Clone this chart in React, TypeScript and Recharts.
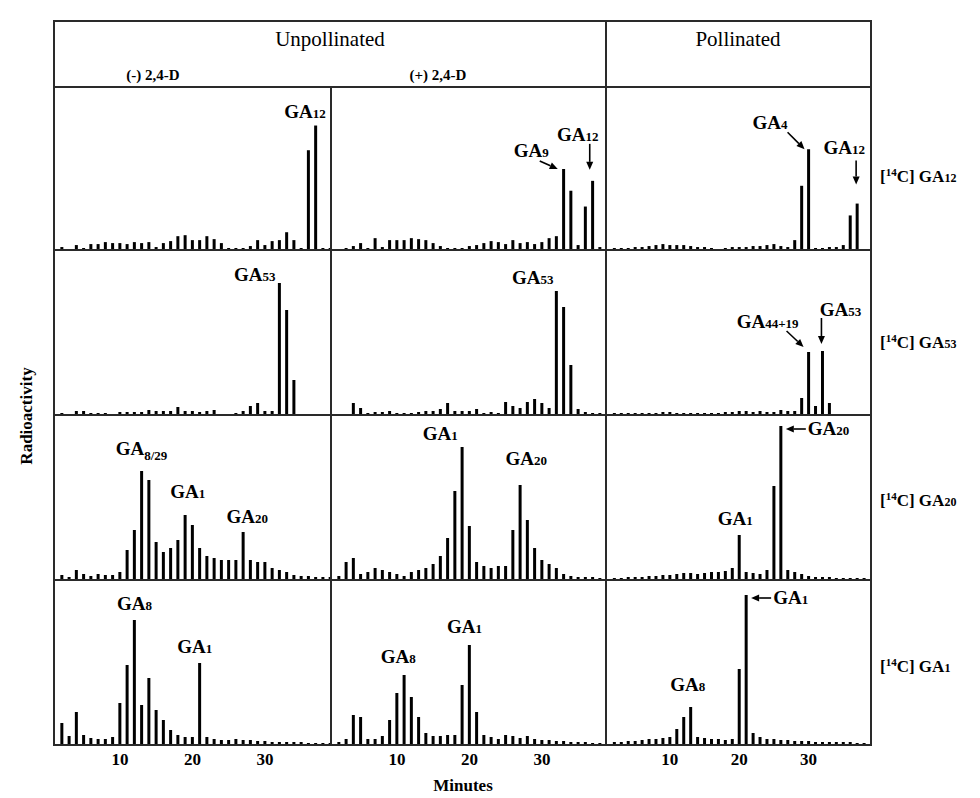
import React from 'react';
import { BarChart, Bar, XAxis, YAxis, ReferenceDot } from 'recharts';

// HPLC fraction (minute) of every bar
const FRACTIONS = [2, 3, 4, 5, 6, 7, 8, 9, 10, 11, 12, 13, 14, 15, 16, 17, 18, 19, 20, 21, 22, 23, 24, 25, 26, 27, 28, 29, 30, 31, 32, 33, 34, 35, 36, 37, 38, 39];
const MINUTE_TICKS = [10, 20, 30];

// Row 1: [14C] GA12 fed
const ga12MinusD = [3, 1, 5, 2, 6, 6, 8, 7, 7, 6, 8, 7, 8, 3, 7, 9, 14, 15, 10, 10, 14, 11, 7, 2, 2, 2, 4, 10, 5, 9, 10, 18, 10, 2, 101, 126, 2, 2];
const ga12PlusD = [0, 2, 4, 7, 2, 12, 3, 10, 10, 10, 12, 11, 10, 7, 4, 2, 2, 2, 4, 5, 7, 9, 8, 6, 10, 7, 8, 6, 8, 12, 14, 82, 60, 5, 44, 70, 3, 2];
const ga12Pollinated = [2, 2, 2, 3, 3, 4, 5, 6, 5, 5, 5, 4, 3, 3, 2, 1, 2, 3, 3, 3, 4, 4, 5, 6, 4, 3, 10, 65, 102, 2, 2, 3, 3, 5, 35, 47, 1, 0];
// Row 2: [14C] GA53 fed
const ga53MinusD = [2, 1, 4, 4, 2, 2, 2, 1, 3, 3, 3, 3, 5, 4, 4, 4, 8, 4, 4, 3, 4, 5, 1, 1, 2, 4, 9, 12, 4, 4, 132, 105, 35, 1, 1, 1, 1, 1];
const ga53PlusD = [1, 1, 12, 7, 2, 3, 3, 4, 2, 2, 2, 3, 4, 4, 6, 12, 4, 4, 4, 6, 2, 3, 2, 13, 9, 7, 13, 16, 12, 7, 124, 108, 50, 6, 3, 2, 2, 1];
const ga53Pollinated = [2, 2, 2, 2, 2, 2, 2, 3, 3, 2, 2, 2, 2, 2, 2, 2, 3, 3, 4, 4, 3, 4, 3, 3, 5, 4, 4, 17, 63, 9, 64, 12, 1, 1, 1, 1, 1, 0];
// Row 3: [14C] GA20 fed
const ga20MinusD = [5, 3, 10, 6, 4, 6, 5, 5, 8, 30, 50, 109, 100, 38, 28, 32, 40, 65, 55, 32, 24, 22, 20, 20, 20, 48, 20, 18, 18, 12, 10, 8, 5, 4, 4, 3, 3, 3];
const ga20PlusD = [4, 18, 22, 6, 8, 12, 10, 8, 6, 4, 8, 10, 12, 16, 24, 42, 89, 133, 54, 18, 14, 12, 14, 14, 50, 95, 60, 32, 20, 16, 12, 6, 4, 3, 3, 3, 2, 2];
const ga20Pollinated = [2, 2, 3, 3, 3, 4, 4, 5, 5, 6, 7, 7, 6, 7, 8, 8, 9, 12, 45, 8, 7, 6, 10, 94, 154, 10, 8, 6, 4, 3, 3, 3, 2, 2, 2, 2, 2, 0];
// Row 4: [14C] GA1 fed
const ga1MinusD = [22, 9, 33, 10, 7, 6, 6, 8, 42, 80, 125, 40, 67, 35, 25, 15, 10, 8, 8, 82, 8, 6, 5, 5, 6, 5, 5, 4, 4, 3, 3, 3, 3, 3, 2, 2, 2, 2];
const ga1PlusD = [3, 6, 30, 28, 6, 6, 9, 25, 52, 70, 48, 28, 12, 9, 9, 10, 10, 60, 100, 33, 10, 8, 6, 10, 9, 7, 9, 6, 5, 5, 4, 4, 3, 3, 3, 2, 2, 2];
const ga1Pollinated = [3, 3, 4, 4, 5, 6, 6, 7, 8, 16, 28, 38, 8, 7, 6, 6, 5, 6, 76, 150, 12, 8, 6, 6, 5, 5, 4, 4, 4, 3, 3, 3, 3, 3, 3, 2, 2, 0];

const groupHeaders = ['Unpollinated', 'Pollinated'];
const treatmentHeaders = ['(-) 2,4-D', '(+) 2,4-D'];
const substrateSubs = ['12', '53', '20', '1'];

const FONT = '"Liberation Serif", "Times New Roman", serif';
const LINE = '#2a2a2a';

const COLS = [
  { left: 46, width: 277, domain: [0.9, 39.1] },
  { left: 323, width: 275, domain: [0.9, 38.83] },
  { left: 598, width: 265, domain: [0.8, 39.0] },
];
const ROWS = [
  { top: 79, height: 163 },
  { top: 242, height: 165 },
  { top: 407, height: 165 },
  { top: 572, height: 165 },
];
const AXIS_H = 32;

type Ann = {
  m: number;
  sub: string;
  low?: boolean;
  anchor: 'start' | 'middle' | 'end';
  dx: number;
  dy: number;
  arrow?: [number, number, number, number];
  leftArrow?: boolean;
};

const annotations: Ann[][][] = [
  [
    [{ m: 37, sub: '12', anchor: 'end', dx: 10, dy: -8 }],
    [
      { m: 33, sub: '9', anchor: 'end', dx: -15, dy: -12, arrow: [-24, -8, -6, 0] },
      { m: 37, sub: '12', anchor: 'middle', dx: -15, dy: -40, arrow: [-3, -37, -3, -11] },
    ],
    [
      { m: 30, sub: '4', anchor: 'end', dx: -21, dy: -20, arrow: [-21, -17, -4, 0] },
      { m: 37, sub: '12', anchor: 'middle', dx: -13, dy: -50, arrow: [-1, -43, -1, -19] },
    ],
  ],
  [
    [{ m: 32, sub: '53', anchor: 'end', dx: -4, dy: -2 }],
    [{ m: 32, sub: '53', anchor: 'end', dx: -3, dy: -7 }],
    [
      { m: 30, sub: '44+19', anchor: 'end', dx: -10, dy: -24, arrow: [-22, -21, -5, -5] },
      { m: 32, sub: '53', anchor: 'middle', dx: 18, dy: -35, arrow: [-1, -33, -1, -7] },
    ],
  ],
  [
    [
      { m: 13, sub: '8/29', low: true, anchor: 'start', dx: -26, dy: -16 },
      { m: 19, sub: '1', anchor: 'start', dx: -15, dy: -17 },
      { m: 27, sub: '20', anchor: 'middle', dx: 4, dy: -9 },
    ],
    [
      { m: 19, sub: '1', anchor: 'middle', dx: -22, dy: -7 },
      { m: 27, sub: '20', anchor: 'middle', dx: 6, dy: -20 },
    ],
    [
      { m: 26, sub: '20', anchor: 'start', dx: 27, dy: 9, leftArrow: true },
      { m: 20, sub: '1', anchor: 'middle', dx: -4, dy: -10 },
    ],
  ],
  [
    [
      { m: 12, sub: '8', anchor: 'middle', dx: 0, dy: -10 },
      { m: 21, sub: '1', anchor: 'middle', dx: -5, dy: -10 },
    ],
    [
      { m: 11, sub: '8', anchor: 'middle', dx: -6, dy: -12 },
      { m: 20, sub: '1', anchor: 'middle', dx: -5, dy: -12 },
    ],
    [
      { m: 21, sub: '1', anchor: 'start', dx: 27, dy: 9, leftArrow: true },
      { m: 13, sub: '8', anchor: 'middle', dx: -3, dy: -16 },
    ],
  ],
];

const panelValues = [
  [ga12MinusD, ga12PlusD, ga12Pollinated],
  [ga53MinusD, ga53PlusD, ga53Pollinated],
  [ga20MinusD, ga20PlusD, ga20Pollinated],
  [ga1MinusD, ga1PlusD, ga1Pollinated],
];

function Arrow({ x1, y1, x2, y2 }: { x1: number; y1: number; x2: number; y2: number }) {
  const ang = Math.atan2(y2 - y1, x2 - x1);
  const L = 8;
  const W = 3.5;
  const bx = x2 - L * Math.cos(ang);
  const by = y2 - L * Math.sin(ang);
  const px = -Math.sin(ang) * W;
  const py = Math.cos(ang) * W;
  return (
    <g>
      <line x1={x1} y1={y1} x2={bx} y2={by} stroke="#000" strokeWidth={1.6} />
      <polygon points={`${x2},${y2} ${bx + px},${by + py} ${bx - px},${by - py}`} fill="#000" />
    </g>
  );
}

function AnnotationMark({ cx, cy, a }: { cx: number; cy: number; a: Ann }) {
  return (
    <g>
      {a.arrow && <Arrow x1={cx + a.arrow[0]} y1={cy + a.arrow[1]} x2={cx + a.arrow[2]} y2={cy + a.arrow[3]} />}
      {a.leftArrow && <Arrow x1={cx + 25} y1={cy + 3} x2={cx + 5} y2={cy + 3} />}
      <text x={cx + a.dx} y={cy + a.dy} textAnchor={a.anchor} fontFamily={FONT} fontWeight="bold" fontSize={19} fill="#000">
        GA
        <tspan fontSize={13} dy={a.low ? 5 : 0}>{a.sub}</tspan>
      </text>
    </g>
  );
}

function Panel({ row, col }: { row: number; col: number }) {
  const values = panelValues[row][col];
  const data = FRACTIONS.map((m, i) => ({ m, v: values[i] }));
  const showAxis = row === 3;
  const c = COLS[col];
  const r = ROWS[row];
  const h = r.height + (showAxis ? AXIS_H : 0);
  return (
    <div style={{ position: 'absolute', left: c.left, top: r.top }}>
      <BarChart width={c.width} height={h} data={data} margin={{ top: 0, right: 0, bottom: 0, left: 0 }}>
        <XAxis
          type="number"
          dataKey="m"
          domain={c.domain}
          allowDataOverflow
          hide={!showAxis}
          ticks={MINUTE_TICKS}
          interval={0}
          height={AXIS_H}
          axisLine={false}
          tickLine={false}
          tick={{ fontSize: 17, fontWeight: 700, fill: '#000', fontFamily: FONT }}
        />
        <YAxis type="number" hide domain={[0, 165]} allowDataOverflow />
        <Bar dataKey="v" fill="#000" barSize={3} isAnimationActive={false} />
        {annotations[row][col].map((a, i) => (
          <ReferenceDot
            key={i}
            x={a.m}
            y={values[FRACTIONS.indexOf(a.m)]}
            r={0}
            ifOverflow="visible"
            shape={(p: any) => <AnnotationMark cx={p.cx} cy={p.cy} a={a} />}
          />
        ))}
      </BarChart>
    </div>
  );
}

const ROW_LABEL_Y = [174, 340, 498, 664];

export default function App() {
  const left = COLS[0].left;
  const right = COLS[2].left + COLS[2].width;
  const top = 13;
  const bottom = ROWS[3].top + ROWS[3].height;
  return (
    <div style={{ position: 'relative', width: 980, height: 798, background: '#fff', fontFamily: FONT }}>
      {ROWS.map((_, ri) => COLS.map((__, ci) => <Panel key={`${ri}-${ci}`} row={ri} col={ci} />))}
      <svg width={980} height={798} style={{ position: 'absolute', left: 0, top: 0, pointerEvents: 'none' }}>
        <rect x={left} y={top} width={right - left} height={bottom - top} fill="none" stroke={LINE} strokeWidth={2} />
        <line x1={left} x2={right} y1={ROWS[0].top} y2={ROWS[0].top} stroke={LINE} strokeWidth={2} />
        {ROWS.slice(1).map((r, i) => (
          <line key={i} x1={left} x2={right} y1={r.top} y2={r.top} stroke={LINE} strokeWidth={2} />
        ))}
        <line x1={COLS[1].left} x2={COLS[1].left} y1={ROWS[0].top} y2={bottom} stroke={LINE} strokeWidth={2} />
        <line x1={COLS[2].left} x2={COLS[2].left} y1={top} y2={bottom} stroke={LINE} strokeWidth={2} />

        <text x={322} y={38} textAnchor="middle" fontSize={21} fontFamily={FONT} fill="#000">{groupHeaders[0]}</text>
        <text x={730} y={38} textAnchor="middle" fontSize={21} fontFamily={FONT} fill="#000">{groupHeaders[1]}</text>
        <text x={145} y={72} textAnchor="middle" fontSize={15} fontWeight="bold" fontFamily={FONT} fill="#000">{treatmentHeaders[0]}</text>
        <text x={430} y={72} textAnchor="middle" fontSize={15} fontWeight="bold" fontFamily={FONT} fill="#000">{treatmentHeaders[1]}</text>

        {substrateSubs.map((s, i) => (
          <text key={i} x={872} y={ROW_LABEL_Y[i]} fontSize={17} fontWeight="bold" fontFamily={FONT} fill="#000">
            [<tspan fontSize={11} dy={-6}>14</tspan>
            <tspan dy={6}>C] GA</tspan>
            <tspan fontSize={12}>{s}</tspan>
          </text>
        ))}

        <text x={24} y={408} transform="rotate(-90 24 408)" textAnchor="middle" fontSize={17} fontWeight="bold" fontFamily={FONT} fill="#000">Radioactivity</text>
        <text x={455} y={783} textAnchor="middle" fontSize={17} fontWeight="bold" fontFamily={FONT} fill="#000">Minutes</text>
      </svg>
    </div>
  );
}
